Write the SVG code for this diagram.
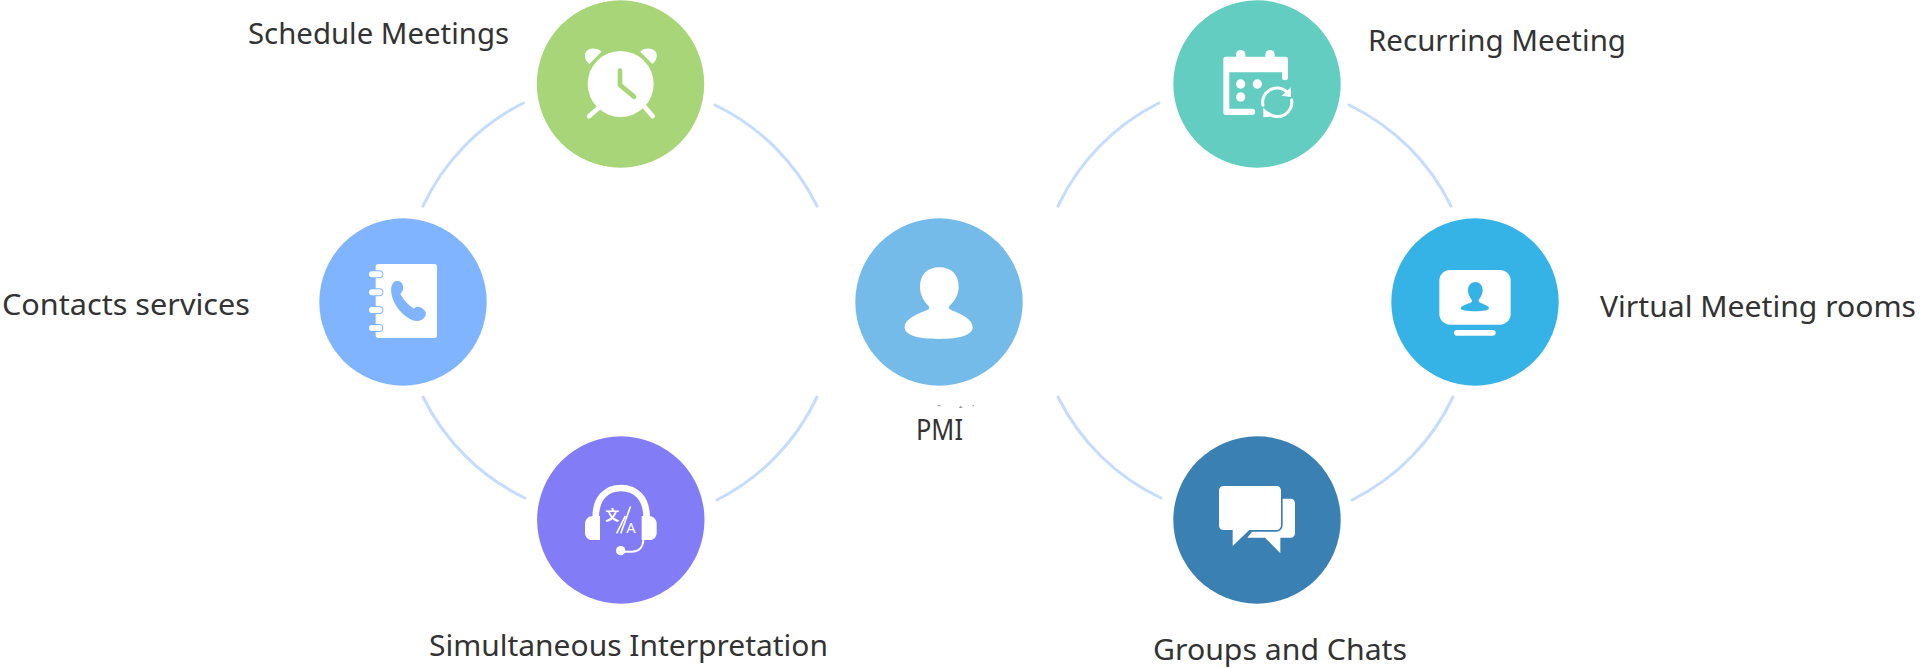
<svg xmlns="http://www.w3.org/2000/svg" width="1923" height="668" viewBox="0 0 1923 668">
<style>
.bg{fill:#fff}
.arc{fill:none;stroke:#c6dcfe;stroke-width:3;stroke-linecap:round}
.lbl{font-family:"Noto Sans","Liberation Sans",sans-serif;font-size:28.500px;fill:#333}
.w{fill:#fff}
.ws{fill:none;stroke:#fff;stroke-linecap:round;stroke-linejoin:round}
</style>
<rect class="bg" width="1923" height="668"/>
<g id="connectors">
<path class="arc" d="M523.500 103A219.500 219.500 0 0 0 423 206"/>
<path class="arc" d="M715 105A219.500 219.500 0 0 1 817 206"/>
<path class="arc" d="M423 397A219.500 219.500 0 0 0 525 498"/>
<path class="arc" d="M817 397A219.500 219.500 0 0 1 717 500"/>
<path class="arc" d="M1159 103A219.500 219.500 0 0 0 1058 206"/>
<path class="arc" d="M1349 105A219.500 219.500 0 0 1 1451 206"/>
<path class="arc" d="M1058 397A219.500 219.500 0 0 0 1161 498"/>
<path class="arc" d="M1453 397A219.500 219.500 0 0 1 1352 500"/>
</g>
<g id="node-schedule">
<circle cx="620.500" cy="84" r="83.700" fill="#a7d577"/>
<g transform="translate(530 0) scale(.33333)">
<circle class="w" cx="272" cy="252" r="99"/>
<path fill="none" stroke="#a7d577" stroke-width="14" stroke-linecap="round" stroke-linejoin="round" d="M270 212V255L312 290"/>
<path class="w" d="M178 192C160 178 160 155 178 148C190 143 205 146 214 155Z"/>
<path class="w" d="M367 192C385 178 385 155 367 148C355 143 340 146 331 155Z"/>
<path class="ws" stroke-width="14" d="M205 325L177 349M345 322L368 349"/>
</g>
<text class="lbl" x="248" y="44" textLength="261" lengthAdjust="spacingAndGlyphs">Schedule Meetings</text>
</g>
<g id="node-recurring">
<circle cx="1257" cy="84" r="83.700" fill="#62cdc0"/>
<g transform="translate(1170 0) scale(.33333)">
<path class="w" d="M168 170H346a8 8 0 0 1 8 8V232a9 9 0 0 1-18 0V217H178V326H246a9.500 9.500 0 0 1 0 19H168a8 8 0 0 1-8-8V178a8 8 0 0 1 8-8Z"/>
<rect class="w" x="198" y="150" width="28" height="30" rx="14"/>
<rect class="w" x="286" y="150" width="28" height="30" rx="14"/>
<circle class="w" cx="212" cy="252" r="14"/>
<circle class="w" cx="262" cy="252" r="14"/>
<circle class="w" cx="212" cy="291" r="14"/>
<path class="ws" stroke-width="9" stroke-linecap="butt" d="M279 316A43 43 0 0 1 350 275M365 300A43 43 0 0 1 294 339"/>
<path class="w" d="M363 262V291L335 287Z"/>
<path class="w" d="M280 323V352L308 349Z"/>
</g>
<text class="lbl" x="1368" y="51" textLength="258" lengthAdjust="spacingAndGlyphs">Recurring Meeting</text>
</g>
<g id="node-contacts">
<circle cx="403" cy="302" r="83.700" fill="#80b4ff"/>
<g transform="translate(320 220) scale(.33333)">
<rect class="w" x="167" y="132" width="184" height="222" rx="8"/>
<g fill="#fff" stroke="#80b4ff" stroke-width="6" paint-order="stroke">
<rect x="147" y="154" width="40" height="18" rx="9"/>
<rect x="147" y="208" width="40" height="18" rx="9"/>
<rect x="147" y="261" width="40" height="18" rx="9"/>
<rect x="147" y="315" width="40" height="18" rx="9"/>
</g>
<path fill="#80b4ff" d="M222 186C232 178 245 185 249 197C252 207 246 216 241 222C250 240 265 256 282 266C290 258 300 258 310 268C320 276 320 285 312 294C304 303 290 306 276 300C245 286 220 255 214 220C212 205 214 193 222 186Z"/>
</g>
<text class="lbl" x="2" y="315" textLength="248" lengthAdjust="spacingAndGlyphs">Contacts services</text>
</g>
<g id="node-pmi">
<circle cx="939" cy="302" r="83.700" fill="#74bbe9"/>
<g transform="translate(860 220) scale(.33333)">
<path class="w" d="M238 142C275 142 296 165 296 200C296 225 282 245 268 258C265 263 268 268 275 271C305 283 338 298 338 322C338 345 300 357 236 357C172 357 134 345 134 322C134 298 170 283 200 271C208 268 210 262 206 258C192 245 180 225 180 200C180 165 201 142 238 142Z"/>
<path fill="#999" d="M232 556H242V559H232ZM296 564L302 557L308 564ZM337 556H342V559H337Z"/>
</g>
<text class="lbl" x="916" y="440" textLength="47" lengthAdjust="spacingAndGlyphs">PMI</text>
</g>
<g id="node-virtual">
<circle cx="1475" cy="302" r="83.700" fill="#35b2e6"/>
<g transform="translate(1390 220) scale(.33333)">
<rect class="w" x="148" y="150" width="214" height="164" rx="32"/>
<path fill="#35b2e6" d="M256 186C270 186 278 197 278 211C278 222 272 232 266 239C265 244 268 247 272 249C284 254 297 258 297 265C297 271 280 274 255 274C230 274 212 271 212 265C212 258 227 254 240 249C245 247 247 243 245 239C239 232 234 222 234 211C234 197 242 186 256 186Z"/>
<rect class="w" x="192" y="330" width="125" height="17" rx="8.500"/>
</g>
<text class="lbl" x="1600" y="317" textLength="316" lengthAdjust="spacingAndGlyphs">Virtual Meeting rooms</text>
</g>
<g id="node-interpretation">
<circle cx="620.800" cy="520" r="83.700" fill="#827cf7"/>
<g transform="translate(535 436) scale(.33333)">
<path class="ws" stroke-width="20" stroke-linecap="butt" d="M182 245C182 185 215 156 258 156C301 156 335 185 335 245"/>
<path class="w" d="M195 240V312H172C158 312 150 302 150 290V264C150 250 160 240 175 240Z"/>
<path class="w" d="M320 240V312H343C357 312 365 302 365 290V264C365 250 355 240 340 240Z"/>
<path class="ws" stroke-width="6" d="M325 312C324 335 310 347 290 347H262"/>
<circle class="w" cx="257" cy="344" r="14"/>
<text x="232" y="251" text-anchor="middle" font-family="'Noto Sans CJK SC',sans-serif" font-size="42" font-weight="700" fill="#fff">文</text>
<text x="288" y="292" text-anchor="middle" font-family="'Noto Sans',sans-serif" font-size="44" fill="#fff">A</text>
<path class="ws" stroke-width="5" d="M286 213L258 290M270 242L246 290"/>
</g>
<text class="lbl" x="429" y="656" textLength="399" lengthAdjust="spacingAndGlyphs">Simultaneous Interpretation</text>
</g>
<g id="node-chats">
<circle cx="1257" cy="520" r="83.700" fill="#3a80b3"/>
<g transform="translate(1170 436) scale(.33333)">
<path class="w" d="M300 188H362a13 13 0 0 1 13 13V292a13 13 0 0 1-13 13H331V352L285 305H232L260 270Z"/>
<path fill="#fff" stroke="#3a80b3" stroke-width="10" paint-order="stroke" d="M160 150H320a13 13 0 0 1 13 13V268a14 14 0 0 1-14 14H238L188 330V282H160a13 13 0 0 1-13-13V163a13 13 0 0 1 13-13Z"/>
</g>
<text class="lbl" x="1153" y="660" textLength="254" lengthAdjust="spacingAndGlyphs">Groups and Chats</text>
</g>
</svg>
